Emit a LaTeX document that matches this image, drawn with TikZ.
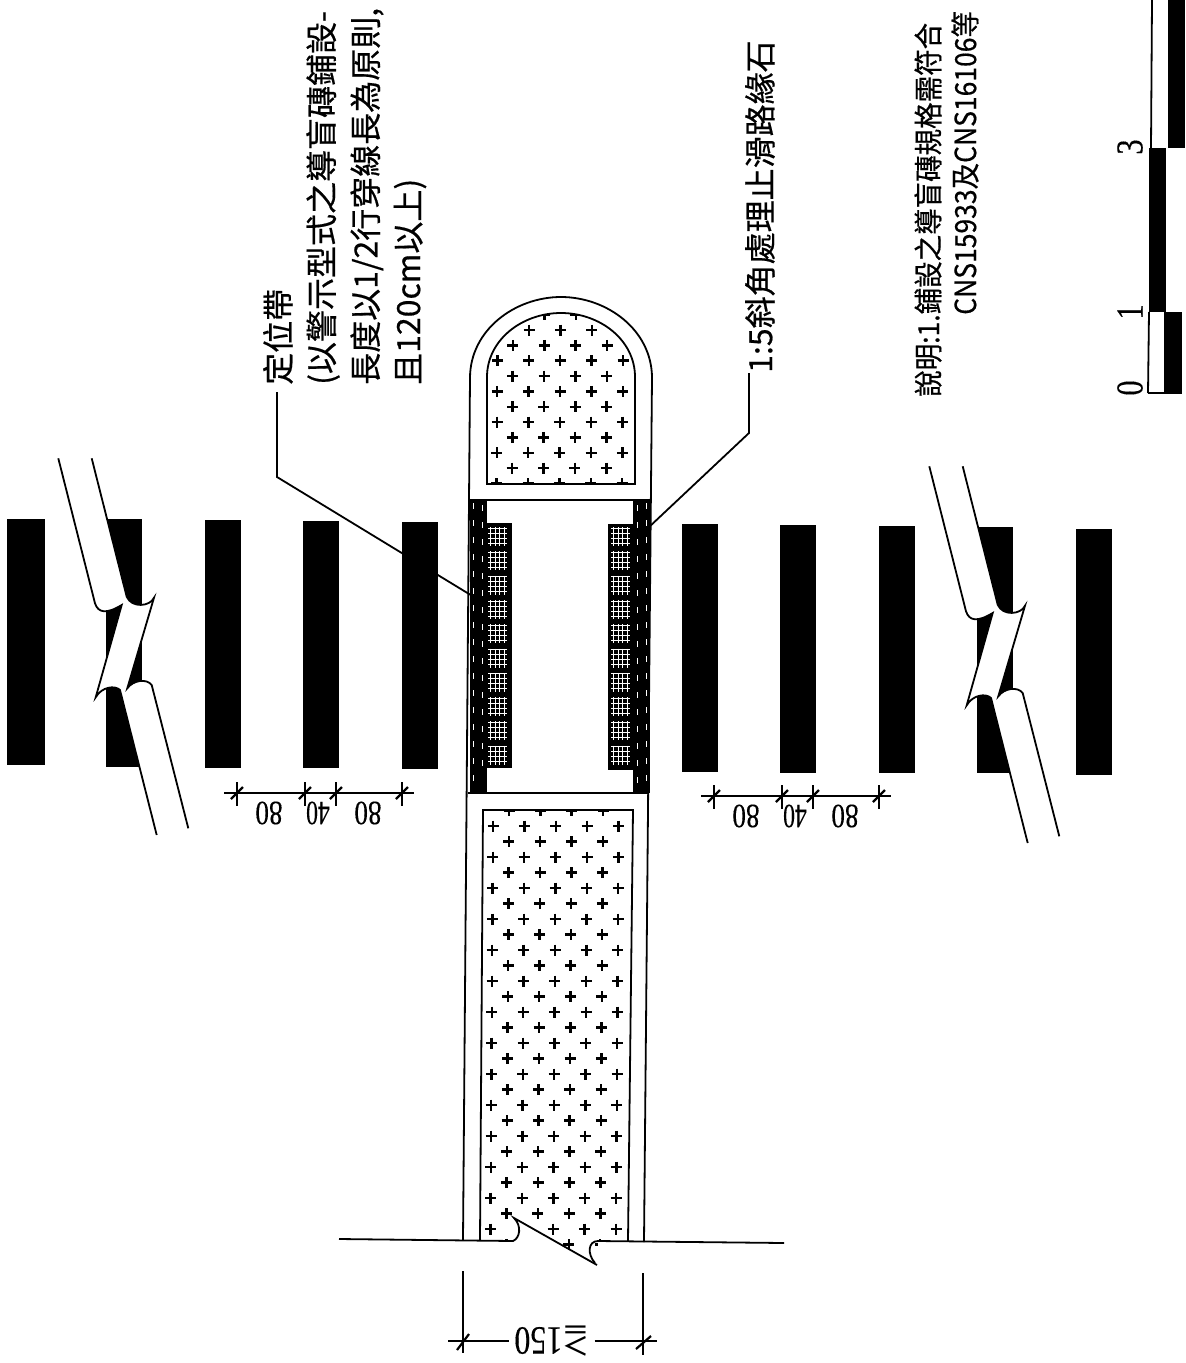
\documentclass[tikz,border=0pt]{standalone}
\usepackage{fontspec}
\usepackage{graphicx}
\setmainfont[FakeBold=0.5]{Noto Sans CJK TC}
\newfontfamily\numfont[FakeBold=0.3]{Liberation Serif}
\newcommand{\squeezed}[2][1.1]{\scalebox{1}[#1]{#2}}
\newcommand{\narrownum}[1]{\scalebox{0.8}[1]{#1}}
\tikzset{
  ln/.style={line width=1.8pt,draw=black},
  thin line/.style={line width=1.5pt,draw=black},
  bar/.style={fill=black},
  plusm/.style={line width=2.5pt,draw=black},
  wgrid/.style={line width=0.8pt,draw=white},
  wstrip/.style={line width=0.7pt,draw=white,dash pattern=on 6pt off 11pt},
  note/.style={rotate=90,anchor=west,inner sep=0pt,font=\fontsize{32}{32}\selectfont},
  smallnote/.style={rotate=90,anchor=west,inner sep=0pt,font=\fontsize{26.5}{26.5}\selectfont},
  dimnum/.style={rotate=180,inner sep=0pt,font=\numfont\fontsize{34}{34}\selectfont},
  scalenum/.style={rotate=90,inner sep=0pt,font=\numfont\fontsize{38}{38}\selectfont},
}
\newcommand{\breakband}[2]{%
  \begin{scope}[shift={(#1,#2)}]
  \fill[white] (58.3,458.3) -- (95,603.3)
    .. controls (98.3,613.3) and (106.7,614) .. (121.7,605)
    -- (95.7,697.3)
    .. controls (101.7,686.7) and (115,685) .. (120,690)
    -- (156.7,835) -- (188.3,828.3)
    -- (151.7,685)
    .. controls (146.7,678.3) and (133.3,680) .. (127.3,688.3)
    -- (154,597.7)
    .. controls (150,606.7) and (131.7,608.3) .. (126.7,596.7)
    -- (91.7,458.3) -- cycle;
  \draw[ln] (58.3,458.3) -- (95,603.3)
    .. controls (98.3,613.3) and (106.7,614) .. (121.7,605)
    -- (95.7,697.3)
    .. controls (101.7,686.7) and (115,685) .. (120,690)
    -- (156.7,835);
  \draw[ln] (188.3,828.3)
    -- (151.7,685)
    .. controls (146.7,678.3) and (133.3,680) .. (127.3,688.3)
    -- (154,597.7)
    .. controls (150,606.7) and (131.7,608.3) .. (126.7,596.7)
    -- (91.7,458.3);
  \end{scope}}
\newcommand{\dimset}[2]{%
  \begin{scope}[shift={(#1,#2)}]
  \draw[thin line] (224,793) -- (414,793);
  \foreach \tx in {237,305,336,402}{
    \draw[thin line] (\tx,782) -- (\tx,806);
    \draw[line width=2.2pt] (\tx-6,799) -- (\tx+6,787);
  }
  \node[dimnum] (n80a#1) at (269,813) {\narrownum{80}};
  \node[dimnum] (n40#1) at (318,813) {\scalebox{0.7}[1]{40}};
  \node[dimnum] (n80b#1) at (368,813) {\narrownum{80}};
  \end{scope}}
\newcommand{\tactile}[1]{%
  \foreach \k in {0,...,9}{
    \pgfmathsetmacro{\gy}{527+24.3*\k}
    \foreach \d in {0,5,9,14}{
      \draw[wgrid] (#1+\d,\gy) -- (#1+\d,\gy+19);
    }
    \foreach \e in {1,6,11,16}{
      \draw[wgrid] (#1-2,\gy+\e) -- (#1+17,\gy+\e);
    }
  }}
\begin{document}
\begin{tikzpicture}[x=1pt,y=-1pt]
\useasboundingbox (0,0) rectangle (1186,1363);
\fill[white] (0,0) rectangle (1186,1363);

% crossing stripes
\fill[bar] (7,519) rectangle (45,765);
\fill[bar] (106,519) rectangle (142,767);
\fill[bar] (205,520) rectangle (241,768);
\fill[bar] (303,521) rectangle (339,768);
\fill[bar] (402,522) rectangle (438,769);
\fill[bar] (682,524) rectangle (718,772);
\fill[bar] (780,525) rectangle (816,773);
\fill[bar] (879,526) rectangle (915,773);
\fill[bar] (977,527) rectangle (1013,773);
\fill[bar] (1076,529) rectangle (1112,775);

\breakband{0}{0}
\breakband{871}{8}

% dimensions between stripes
\dimset{0}{0}
\dimset{477}{3}

% refuge island outline
\draw[ln] (463,1240) -- (470,378) .. controls (470,330) and (515,297) .. (561,297)
  .. controls (607,297) and (652,330) .. (652,378) -- (644,1242);
\draw[ln] (470,500) -- (652,500);
\draw[ln] (468,793) -- (649,793);

% top nose
\draw[ln] (487,484) -- (487,377) .. controls (487,340) and (522,313) .. (561,313)
  .. controls (600,313) and (635,340) .. (635,377) -- (635,484) -- cycle;
\begin{scope}
  \clip (487,484) -- (487,377) .. controls (487,340) and (522,313) .. (561,313)
  .. controls (600,313) and (635,340) .. (635,377) -- (635,484) -- cycle;
  \foreach \i in {-1,...,11}{
    \pgfmathsetmacro{\py}{330+15.35*\i}
    \pgfmathtruncatemacro{\isodd}{mod(\i+2,2)}
    \ifnum\isodd=0
      \foreach \k in {-1,0,1,2,3}{
        \pgfmathsetmacro{\px}{529-0.1*\i+31.4*\k}
        \draw[plusm] (\px,\py) +(-5.5,0) -- +(5.5,0) +(0,-5.5) -- +(0,5.5);
      }
    \else
      \foreach \k in {0,1,2,3}{
        \pgfmathsetmacro{\px}{513-0.1*\i+31.4*\k}
        \draw[plusm] (\px,\py) +(-5.5,0) -- +(5.5,0) +(0,-5.5) -- +(0,5.5);
      }
    \fi
  }
\end{scope}

% long body
\begin{scope}
  \clip (483,810) -- (633,810) -- (628,1241) -- (598,1241) -- (597,1265) -- (514,1218) -- (513,1241) -- (480,1241) -- cycle;
  \foreach \i in {-1,...,27}{
    \pgfmathsetmacro{\py}{826+15.5*\i}
    \pgfmathtruncatemacro{\isodd}{mod(\i+2,2)}
    \ifnum\isodd=0
      \foreach \k in {0,...,4}{
        \pgfmathsetmacro{\px}{493-0.1*\i+31.4*\k}
        \draw[plusm] (\px,\py) +(-5.5,0) -- +(5.5,0) +(0,-5.5) -- +(0,5.5);
      }
    \else
      \foreach \k in {0,...,3}{
        \pgfmathsetmacro{\px}{509-0.1*\i+31.3*\k}
        \draw[plusm] (\px,\py) +(-5.5,0) -- +(5.5,0) +(0,-5.5) -- +(0,5.5);
      }
    \fi
  }
\end{scope}
\draw[ln] (480,1240) -- (483,810) -- (633,810) -- (628,1241);

% road edge with break
\draw[ln] (339,1239) -- (513,1241) .. controls (520,1238) and (522,1226) .. (514,1218)
  -- (597,1265);
\draw[ln] (595,1263) .. controls (587,1254) and (588,1241) .. (598,1241) -- (784,1243);

% detection strips and tactile paving
\fill[bar] (470,500) rectangle (487,793);
\fill[bar] (487,523) rectangle (512,768);
\fill[bar] (633,500) rectangle (650,793);
\fill[bar] (608,524) rectangle (633,770);
\tactile{490}
\tactile{613}
\draw[wstrip] (473,503) -- (473,790);
\draw[wstrip] (482,505) -- (482,770);
\draw[wstrip] (637,505) -- (637,790);
\draw[wstrip] (646,503) -- (646,790);

% bottom dimension
\draw[thin line] (463,1271) -- (463,1353);
\draw[thin line] (643,1273) -- (643,1355);
\node[dimnum,font=\numfont\fontsize{40}{40}\selectfont,outer sep=5pt] (ge150) at (552,1341)
  {\narrownum{{\fontspec{Noto Sans CJK TC}\fontsize{34}{34}\selectfont ≧}150}};
\coordinate (dimL) at (448,1341);
\coordinate (dimR) at (657,1341);
\draw[thin line] (dimL) -- (ge150.east);
\draw[thin line] (ge150.west) -- (dimR);
\draw[line width=2.2pt] (457,1350) -- (469,1334);
\draw[line width=2.2pt] (636,1349) -- (651,1336);

% notes and leaders
\node[note] (noteA) at (278,385) {定位帶};
\node[note] (noteB) at (323,385) {(以警示型式之導盲磚鋪設-};
\node[note] (noteC) at (367,385) {長度以1/2行穿線長為原則,};
\node[note] (noteD) at (410,385) {且120cm以上)};
\node[note] (noteE) at (760,373) {1:5斜角處理止滑路緣石};
\coordinate (tipA) at (474,597);
\coordinate (tipE) at (648,528);
\draw[ln] (277,392) -- (277,477) -- (tipA);
\draw[ln] (749,373) -- (749,433) -- (tipE);

\node[smallnote] (noteF) at (928,397) {\squeezed{說明:1.鋪設之導盲磚規格需符合}};
\node[smallnote] (noteG) at (965,315) {\squeezed{CNS15933及CNS16106等}};

% scale bar
\fill[black] (1164,312) rectangle (1182,393);
\fill[black] (1149,148) rectangle (1166,312);
\fill[black] (1168,0) rectangle (1185,148);
\draw[ln] (1148,393) -- (1182,393);
\draw[ln] (1148,393) -- (1149,312);
\draw[ln] (1151,148) -- (1152,0);
\node[scalenum] (s0) at (1130,388) {\narrownum{0}};
\node[scalenum] (s1) at (1130,312) {\narrownum{1}};
\node[scalenum] (s3) at (1130,147) {\narrownum{3}};
\end{tikzpicture}
\end{document}
